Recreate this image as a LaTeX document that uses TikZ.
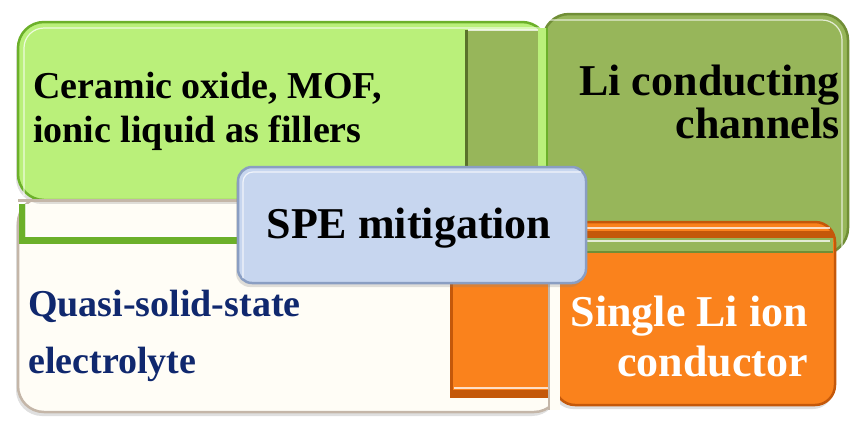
\documentclass[tikz,border=0pt]{standalone}
\usepackage{fontspec}
\setmainfont{Liberation Serif}
\usetikzlibrary{shadows}

\definecolor{leaffill}{RGB}{186,240,122}
\definecolor{leafedge}{RGB}{108,176,42}
\definecolor{olivefill}{RGB}{151,182,90}
\definecolor{oliveedge}{RGB}{112,142,54}
\definecolor{orangefill}{RGB}{250,130,28}
\definecolor{orangeedge}{RGB}{196,88,10}
\definecolor{creamfill}{RGB}{255,253,246}
\definecolor{creamedge}{RGB}{196,182,168}
\definecolor{bluefill}{RGB}{199,214,239}
\definecolor{blueedge}{RGB}{138,158,194}
\definecolor{navytext}{RGB}{16,40,110}

\tikzset{
  panel/.style={line width=2.5pt, rounded corners=26pt,
    drop shadow={opacity=0.25, shadow xshift=-2pt, shadow yshift=-4pt}},
  shine/.style={white, opacity=0.75, line width=1.2pt},
  smalltext/.style={font=\bfseries\fontsize{38}{44}\selectfont, inner sep=0pt},
  bigtext/.style={font=\bfseries\fontsize{44}{50}\selectfont, inner sep=0pt},
}

\begin{document}
\begin{tikzpicture}[x=1pt,y=-1pt]
\useasboundingbox (0,0) rectangle (850,432);

% lower left: cream panel
\path[panel, fill=creamfill, draw=creamedge] (18,197) rectangle (560,412);

% upper left: light green panel with the olive tongue in it
\path[panel, fill=leaffill, draw=leafedge] (18,22) rectangle (548,200);
\draw[shine, rounded corners=20pt] (24,196) -- (24,28) -- (546,28);
\fill[olivefill] (465,30) rectangle (540,170);
\draw[oliveedge!80!black, line width=3pt] (466,30) -- (466,170);
\draw[shine] (468,30) -- (540,30);

% green frame round the cream strip
\fill[creamfill] (20,204) rectangle (240,244);
\draw[creamedge, line width=3pt] (18,200) -- (240,200);
\draw[leafedge, line width=7pt] (22,204) -- (22,240) -- (240,240);
\draw[shine] (26,204) -- (26,236) -- (240,236);

% upper right: olive panel
\path[panel, fill=olivefill, draw=oliveedge] (543,14) rectangle (848,254);
\draw[shine, rounded corners=20pt] (546,20) -- (842,20) -- (842,250);
\fill[leaffill] (538,28) rectangle (547,170);
\draw[leafedge, line width=1.5pt] (547,28) -- (547,170);

% lower right: orange panel with the olive strip on top
\path[panel, rounded corners=20pt, fill=orangefill, draw=orangeedge] (555,222) rectangle (835,405);
\fill[orangeedge] (558,231) rectangle (833,238);
\draw[shine] (560,228) -- (830,228);
\fill[olivefill] (558,238) rectangle (833,252);
\draw[shine] (560,241) -- (830,241);
\draw[oliveedge, line width=1.5pt] (558,252) -- (833,252);

% orange tongue reaching into the cream panel
\fill[orangefill] (450,262) rectangle (550,398);
\draw[orangeedge, line width=3pt] (451,262) -- (451,398);
\fill[orangeedge] (450,390) rectangle (550,398);
\draw[shine] (454,388) -- (548,388);
\fill[creamfill] (549,262) rectangle (560,410);
\draw[creamedge, line width=1.5pt] (549,262) -- (549,410);

% centre box
\path[panel, rounded corners=14pt, fill=bluefill, draw=blueedge] (238,167) rectangle (586,283);
\draw[shine, rounded corners=10pt] (243,278) -- (243,172) -- (581,172);

% texts
\node[smalltext, anchor=base west] (cer1) at (33,98) {Ceramic oxide, MOF,};
\node[smalltext, anchor=base west] (cer2) at (33,142) {ionic liquid as fillers};
\node[bigtext, anchor=base east] (chan1) at (840,95) {Li conducting};
\node[bigtext, anchor=base east] (chan2) at (840,138) {channels};
\node[bigtext, anchor=base] (spe) at (409,238) {SPE mitigation};
\node[smalltext, anchor=base west, text=navytext] (quasi1) at (28,316) {Quasi-solid-state};
\node[smalltext, anchor=base west, text=navytext] (quasi2) at (28,373) {electrolyte};
\node[bigtext, anchor=base east, text=white] (single1) at (808,326) {Single Li ion};
\node[bigtext, anchor=base east, text=white] (single2) at (808,376) {conductor};
\end{tikzpicture}
\end{document}
